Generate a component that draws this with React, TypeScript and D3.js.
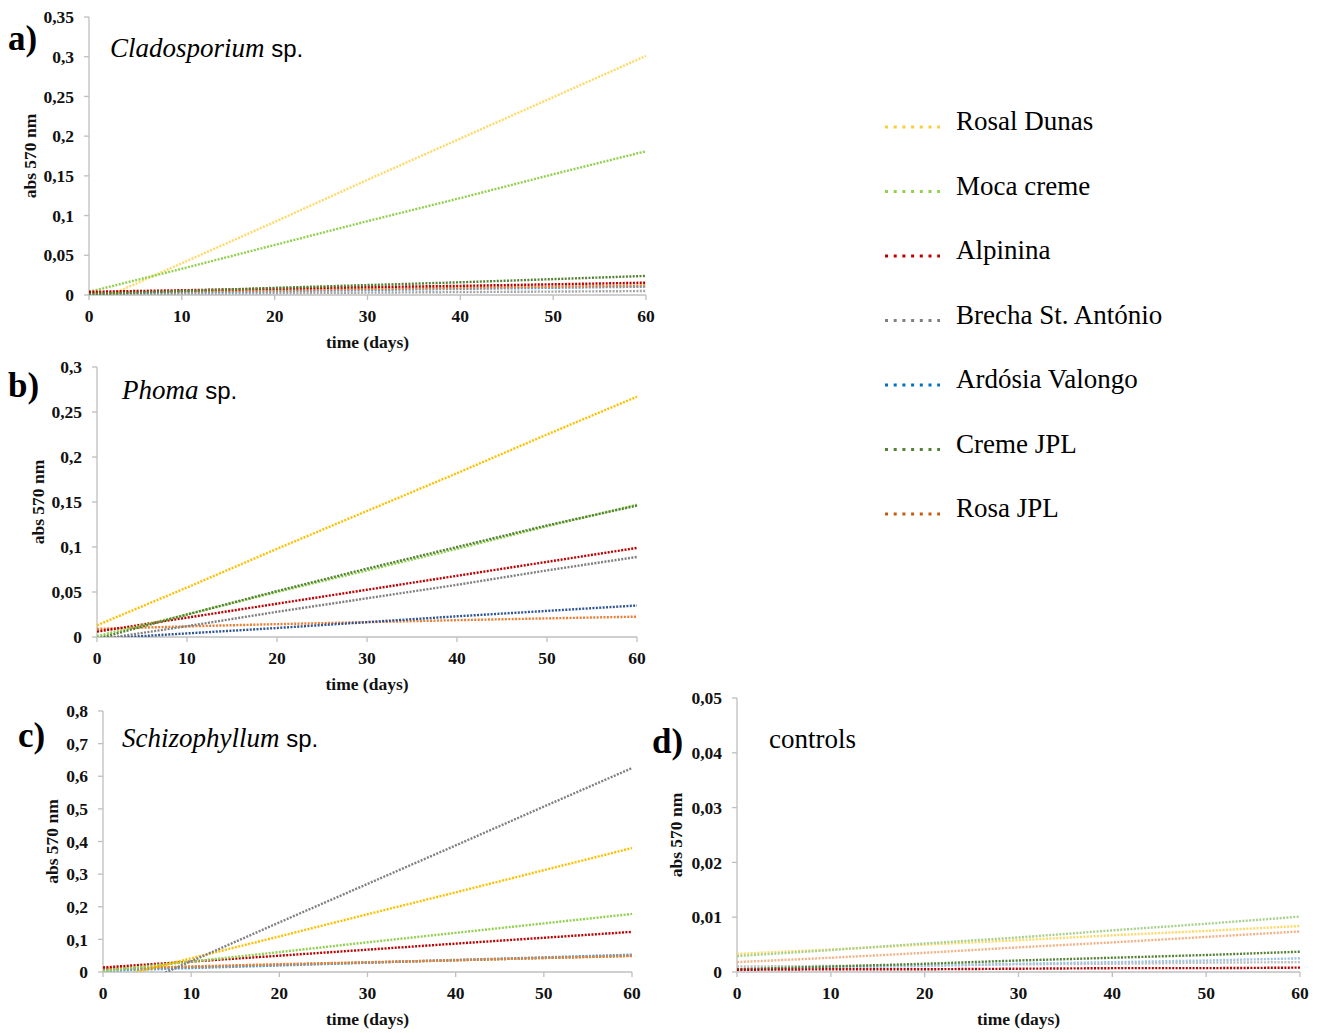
import React from 'react';
import * as d3 from 'd3';

// sampling days used for every series
const days = [0, 10, 20, 30, 40, 50, 60];

const seriesNames = ['Rosal Dunas', 'Moca creme', 'Alpinina', 'Brecha St. António', 'Ardósia Valongo', 'Creme JPL', 'Rosa JPL'];

// abs 570 nm per series (same order as seriesNames)
const cladosporium = [
  [-0.012, 0.040, 0.092, 0.145, 0.197, 0.249, 0.301],
  [0.004, 0.033, 0.063, 0.093, 0.122, 0.152, 0.181],
  [0.004, 0.006, 0.008, 0.010, 0.0115, 0.0135, 0.0155],
  [0.001, 0.0017, 0.0023, 0.003, 0.0037, 0.0043, 0.005],
  [0.002, 0.0034, 0.0048, 0.0063, 0.0077, 0.0091, 0.0105],
  [0.001, 0.005, 0.009, 0.0125, 0.016, 0.020, 0.024],
  [0.003, 0.0045, 0.006, 0.0077, 0.009, 0.0105, 0.012],
];

const phoma = [
  [0.013, 0.055, 0.098, 0.140, 0.182, 0.225, 0.267],
  [0.001, 0.025, 0.050, 0.074, 0.098, 0.123, 0.147],
  [0.006, 0.0215, 0.037, 0.0525, 0.068, 0.0835, 0.099],
  [-0.003, 0.012, 0.028, 0.043, 0.058, 0.074, 0.089],
  [-0.002, 0.004, 0.010, 0.0165, 0.023, 0.029, 0.035],
  [-0.002, 0.025, 0.051, 0.076, 0.100, 0.124, 0.146],
  [0.009, 0.0118, 0.0143, 0.0165, 0.0187, 0.0207, 0.0226],
];

const schizophyllum = [
  [-0.026, 0.042, 0.109, 0.177, 0.244, 0.312, 0.380],
  [0.003, 0.032, 0.061, 0.091, 0.120, 0.149, 0.178],
  [0.014, 0.032, 0.050, 0.0685, 0.087, 0.105, 0.123],
  [-0.085, 0.033, 0.152, 0.270, 0.388, 0.507, 0.625],
  [0.004, 0.012, 0.020, 0.0285, 0.037, 0.045, 0.053],
  [0.008, 0.015, 0.022, 0.029, 0.036, 0.043, 0.050],
  [0.011, 0.017, 0.024, 0.030, 0.036, 0.043, 0.049],
];

const controls = [
  [0.0033, 0.0041, 0.0050, 0.0058, 0.0067, 0.0075, 0.0084],
  [0.0029, 0.0040, 0.0052, 0.0063, 0.0076, 0.0088, 0.0101],
  [0.0004, 0.0005, 0.0005, 0.0006, 0.0007, 0.0007, 0.0008],
  [0.0010, 0.0011, 0.0012, 0.0014, 0.0015, 0.0017, 0.0018],
  [0.0005, 0.0008, 0.0011, 0.0015, 0.0018, 0.0021, 0.0025],
  [0.0005, 0.0010, 0.0015, 0.0021, 0.0026, 0.0031, 0.0037],
  [0.0018, 0.0026, 0.0035, 0.0045, 0.0054, 0.0064, 0.0074],
];

const xTicks = [0, 10, 20, 30, 40, 50, 60];

const legendColors = ['#FFCC33', '#92D050', '#C00000', '#808080', '#0070C0', '#548235', '#C55A11'];

const serif = '"Liberation Serif", "Times New Roman", serif';
const sans = '"Liberation Sans", Arial, sans-serif';
const axisColor = '#BFBFBF';
const axisFont = 17.5;
const fmt = (v: number) => d3.format('.2~f')(v).replace('.', ',');

type PanelProps = {
  id: string;
  data: number[][];
  colors: string[];
  order: number[];
  x0: number; x1: number; yTop: number; yBottom: number;
  yMax: number; yStep: number;
  yTitleX: number;
  letter: string; letterX: number; letterY: number;
  title: string; italic: boolean; titleX: number; titleY: number;
};

const Panel = (p: PanelProps) => {
  const xScale = d3.scaleLinear().domain([0, 60]).range([p.x0, p.x1]);
  const yScale = d3.scaleLinear().domain([0, p.yMax]).range([p.yBottom, p.yTop]);
  const yTicks = d3.range(0, p.yMax + p.yStep / 2, p.yStep);
  const line = d3.line<number>().x((_, i) => xScale(days[i])).y(d => yScale(d));

  return (
    <g>
      <defs>
        <clipPath id={`clip-${p.id}`}>
          <rect x={p.x0} y={p.yTop - 5} width={p.x1 - p.x0 + 4} height={p.yBottom - p.yTop + 5} />
        </clipPath>
      </defs>
      {/* axes */}
      <line x1={p.x0} x2={p.x0} y1={p.yTop} y2={p.yBottom} stroke={axisColor} strokeWidth={1.3} />
      <line x1={p.x0} x2={p.x1} y1={p.yBottom} y2={p.yBottom} stroke={axisColor} strokeWidth={1.3} />
      {yTicks.map(t =>
        <g key={`y-${t}`}>
          <line x1={p.x0 - 5} x2={p.x0} y1={yScale(t)} y2={yScale(t)} stroke={axisColor} strokeWidth={1.3} />
          <text x={p.x0 - 15} y={yScale(t)} dy='0.35em' textAnchor='end' fontFamily={serif} fontWeight='bold' fontSize={axisFont} fill='#111'>{fmt(t)}</text>
        </g>
      )}
      {xTicks.map(t =>
        <g key={`x-${t}`}>
          <line x1={xScale(t)} x2={xScale(t)} y1={p.yBottom} y2={p.yBottom + 5} stroke={axisColor} strokeWidth={1.3} />
          <text x={xScale(t)} y={p.yBottom + 21} dy='0.35em' textAnchor='middle' fontFamily={serif} fontWeight='bold' fontSize={axisFont} fill='#111'>{t}</text>
        </g>
      )}
      <text x={(p.x0 + p.x1) / 2} y={p.yBottom + 47} dy='0.35em' textAnchor='middle' fontFamily={serif} fontWeight='bold' fontSize={axisFont} fill='#111'>time (days)</text>
      <text transform={`translate(${p.yTitleX}, ${(p.yTop + p.yBottom) / 2}) rotate(-90)`} dy='0.35em' textAnchor='middle' fontFamily={serif} fontWeight='bold' fontSize={axisFont} fill='#111'>abs 570 nm</text>
      {/* series */}
      <g clipPath={`url(#clip-${p.id})`}>
        {p.order.map(i =>
          <path key={`s-${i}`} d={line(p.data[i]) || ''} fill='none' stroke={p.colors[i]} strokeWidth={2.4} strokeDasharray='2 1.4' />
        )}
      </g>
      <text x={p.letterX} y={p.letterY} dy='0.35em' fontFamily={serif} fontWeight='bold' fontSize={35} fill='#000'>{p.letter}</text>
      <text x={p.titleX} y={p.titleY} dy='0.35em' fontSize={27} fill='#000'>
        <tspan fontFamily={serif} fontStyle={p.italic ? 'italic' : 'normal'}>{p.title}</tspan>
        {p.italic && <tspan fontFamily={sans} fontSize={24}> sp.</tspan>}
      </text>
    </g>
  );
};

const App = () => {
  const legendY = d3.scalePoint<number>().domain(d3.range(seriesNames.length)).range([121, 508]);
  return (
    <svg width={1322} height={1033} style={{ position: 'absolute', left: 0, top: 0, background: '#fff' }}>
      <Panel id='a' data={cladosporium}
        colors={['#FFD966', '#92D050', '#C00000', '#A6A6A6', '#5B9BD5', '#548235', '#ED7D31']}
        order={[0, 1, 3, 4, 6, 2, 5]}
        x0={89} x1={646} yTop={17} yBottom={295} yMax={0.35} yStep={0.05} yTitleX={30}
        letter='a)' letterX={8} letterY={38} title='Cladosporium' italic={true} titleX={110} titleY={48} />
      <Panel id='b' data={phoma}
        colors={['#FFC000', '#92D050', '#C00000', '#808080', '#2F5597', '#548235', '#ED7D31']}
        order={[6, 4, 3, 2, 1, 5, 0]}
        x0={97} x1={637} yTop={367} yBottom={637} yMax={0.3} yStep={0.05} yTitleX={38}
        letter='b)' letterX={8} letterY={385} title='Phoma' italic={true} titleX={122} titleY={390} />
      <Panel id='c' data={schizophyllum}
        colors={['#FFC000', '#92D050', '#C00000', '#808080', '#5B9BD5', '#548235', '#ED7D31']}
        order={[5, 4, 6, 2, 1, 0, 3]}
        x0={103} x1={632} yTop={711} yBottom={972} yMax={0.8} yStep={0.1} yTitleX={52}
        letter='c)' letterX={18} letterY={735} title='Schizophyllum' italic={true} titleX={122} titleY={738} />
      <Panel id='d' data={controls}
        colors={['#FFD966', '#A9D18E', '#C00000', '#BFBFBF', '#9DC3E6', '#548235', '#F4B183']}
        order={[3, 4, 5, 2, 6, 0, 1]}
        x0={737} x1={1300} yTop={698} yBottom={972} yMax={0.05} yStep={0.01} yTitleX={676}
        letter='d)' letterX={652} letterY={741} title='controls' italic={false} titleX={769} titleY={739} />
      {/* legend */}
      {seriesNames.map((name, i) =>
        <g key={`leg-${i}`}>
          <line x1={885} x2={940} y1={(legendY(i) || 0) + 6} y2={(legendY(i) || 0) + 6} stroke={legendColors[i]} strokeWidth={3} strokeDasharray='3 5.7' />
          <text x={956} y={legendY(i)} dy='0.35em' fontFamily={serif} fontSize={27} fill='#000'>{name}</text>
        </g>
      )}
    </svg>
  );
};

export default App;
